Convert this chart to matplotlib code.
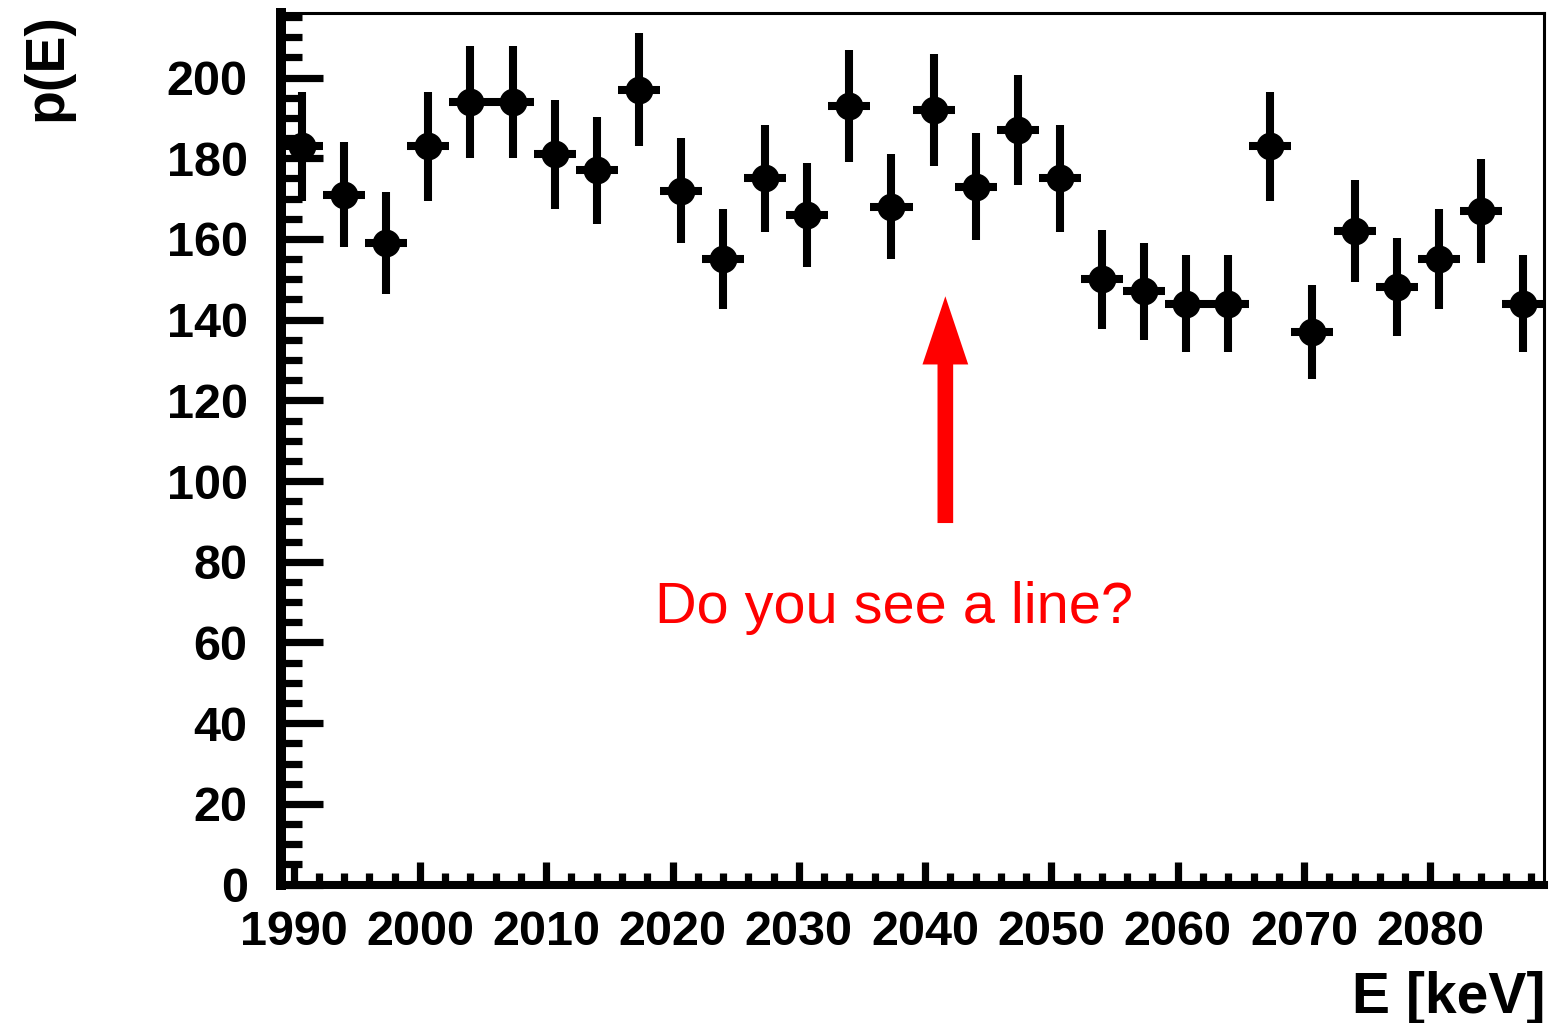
import numpy as np
import matplotlib.pyplot as plt
from matplotlib.ticker import MultipleLocator

plt.rcParams['font.family'] = ['Liberation Sans', 'DejaVu Sans']

# energy spectrum: 30 bins of 10/3 keV between 1989 and 2089 keV
bin_lo = 1989.0
bin_hi = 2089.0
counts = [183, 171, 159, 183, 194, 194, 181, 177, 197, 172,
          155, 175, 166, 193, 168, 192, 173, 187, 175, 150,
          147, 144, 144, 183, 137, 162, 148, 155, 167, 144]

x_ticks = [1990, 2000, 2010, 2020, 2030, 2040, 2050, 2060, 2070, 2080]
y_ticks = [0, 20, 40, 60, 80, 100, 120, 140, 160, 180, 200]

nbins = len(counts)
width = (bin_hi - bin_lo) / nbins
centers = bin_lo + width * (np.arange(nbins) + 0.5)
errors = np.sqrt(counts)  # Poisson errors

fig = plt.figure(figsize=(15.51, 10.23), dpi=100)
ax = fig.add_axes([281 / 1551, 1 - 884.6 / 1023,
                   (1544 - 281) / 1551, (884.6 - 13) / 1023])

ax.errorbar(centers, counts, xerr=width / 2, yerr=errors, fmt='o',
            color='black', ms=20, mew=0, elinewidth=5.8, capsize=0,
            clip_on=False, zorder=3)

ax.set_xlim(bin_lo, bin_hi)
ax.set_ylim(0, 216)

ax.set_xticks(x_ticks)
ax.set_yticks(y_ticks)
ax.xaxis.set_minor_locator(MultipleLocator(2))
ax.yaxis.set_minor_locator(MultipleLocator(5))

ax.tick_params(axis='both', which='both', direction='in', top=False, right=False,
               labelsize=35, width=5.2, color='black')
ax.tick_params(axis='y', which='major', length=30, pad=24)
ax.tick_params(axis='y', which='minor', length=15)
ax.tick_params(axis='x', which='major', length=16.5, pad=18.5)
ax.tick_params(axis='x', which='minor', length=8.6)
for lbl in ax.get_xticklabels() + ax.get_yticklabels():
    lbl.set_fontweight('bold')

ax.spines['left'].set_linewidth(7.2)
ax.spines['bottom'].set_linewidth(5.8)
ax.spines['top'].set_linewidth(2.2)
ax.spines['right'].set_linewidth(2.2)

# axis titles, ROOT style (top / right aligned)
fig.text(47 / 1551, 1 - 13 / 1023, 'p(E)', rotation=90, ha='center', va='top',
         fontsize=40, fontweight='bold')
fig.text(1545 / 1551, 1 - 1013 / 1023, 'E [keV]', ha='right', va='baseline',
         fontsize=41, fontweight='bold')

# annotation
ax.arrow(2041.6, 89.6, 0, 145.8 - 89.6, width=1.24, head_width=3.62,
         head_length=16.9, length_includes_head=True, color='red', lw=0)
ax.text(2037.5, 64.8, 'Do you see a line?', color='red', fontsize=41.5,
        ha='center', va='baseline')

plt.savefig('out.png', dpi=100)
